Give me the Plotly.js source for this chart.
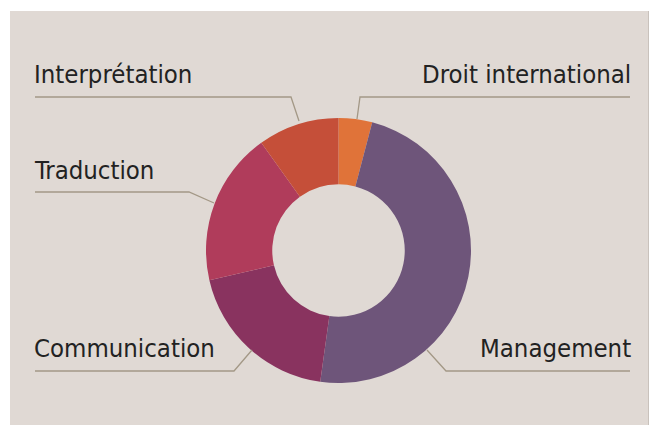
<!DOCTYPE html>
<html>
<head>
<meta charset="utf-8">
<script src="https://cdn.plot.ly/plotly-3.0.1.min.js"></script>
<style>html,body{margin:0;padding:0;background:#fff;}#chart{width:650px;height:425px;}</style>
</head>
<body>
<div id="chart"></div>
<script>
// Data (clockwise from 12 o'clock)
const categories = ["Droit international", "Management", "Communication", "Traduction", "Interprétation"];
const shares = [4.1, 48.1, 19.2, 18.7, 9.9];
const sliceColors = ["#e07339", "#6e557a", "#89335f", "#b03c5b", "#c54f39"];

const W = 650, H = 425;
const px = x => x / W;
const py = y => 1 - y / H;

// Pie geometry (pixels)
const cx = 338.5, cy = 250.5, R = 132.5;

// Label layout: text anchor, leader line path (pixels)
const labelLayout = [
  {text: categories[0], x: 632, y: 90, align: "right", path: [[630, 97], [360, 97], [357, 119]]},
  {text: categories[1], x: 632, y: 364, align: "right", path: [[630, 371], [446, 371], [427, 350]]},
  {text: categories[2], x: 33, y: 364, align: "left", path: [[35, 371], [234, 371], [252, 350]]},
  {text: categories[3], x: 33, y: 186, align: "left", path: [[35, 192], [189, 192], [214, 203]]},
  {text: categories[4], x: 33, y: 90, align: "left", path: [[35, 97], [291, 97], [299, 121]]}
];

const annotations = labelLayout.map(l => ({
  text: l.text, xref: "paper", yref: "paper",
  x: px(l.x), y: py(l.y), xanchor: l.align, yanchor: "bottom",
  showarrow: false, align: l.align,
  font: {family: "DejaVu Sans Condensed, Liberation Sans Narrow, sans-serif", size: 25.5, color: "#222222"},
  borderpad: 0
}));

const shapes = [
  {type: "rect", xref: "paper", yref: "paper", x0: px(10), x1: px(648), y0: 0, y1: py(11),
   fillcolor: "#e0d9d4", line: {width: 0}, layer: "below"},
  {type: "line", xref: "paper", yref: "paper", x0: px(648.5), x1: px(648.5), y0: 0, y1: py(11),
   line: {color: "#c9c2bc", width: 1}, layer: "below"}
].concat(labelLayout.map(l => ({
  type: "path", xref: "paper", yref: "paper",
  path: "M " + l.path.map(p => px(p[0]) + "," + py(p[1])).join(" L "),
  line: {color: "#a39886", width: 1.3}
})));

const trace = {
  type: "pie",
  labels: categories,
  values: shares,
  marker: {colors: sliceColors, line: {color: "rgba(0,0,0,0)", width: 0}},
  hole: 0.5,
  sort: false,
  direction: "clockwise",
  rotation: 0,
  textinfo: "none",
  hoverinfo: "label+percent",
  domain: {x: [px(cx - R), px(cx + R)], y: [py(cy + R), py(cy - R)]}
};

const layout = {
  width: W, height: H,
  margin: {l: 0, r: 0, t: 0, b: 0},
  paper_bgcolor: "#ffffff",
  plot_bgcolor: "rgba(0,0,0,0)",
  showlegend: false,
  annotations: annotations,
  shapes: shapes
};

Plotly.newPlot("chart", [trace], layout, {displayModeBar: false, staticPlot: true});
</script>
</body>
</html>
